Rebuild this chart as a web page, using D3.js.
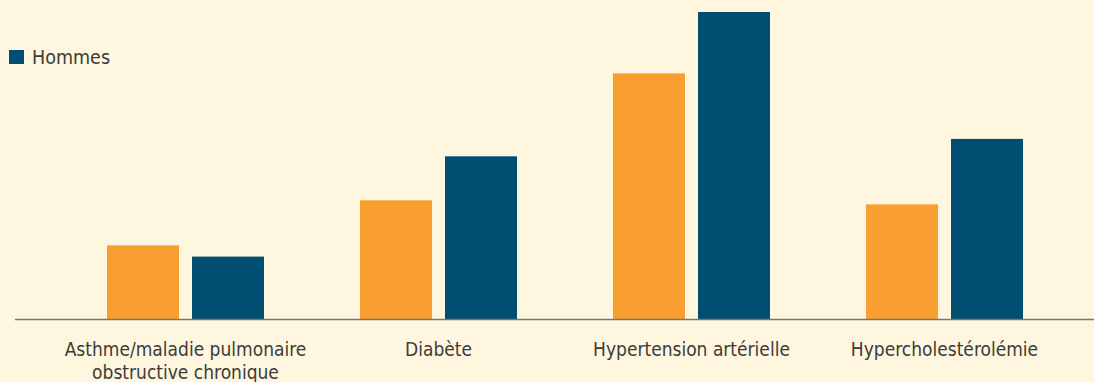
<!DOCTYPE html>
<html><head><meta charset="utf-8">
<script src="https://cdn.jsdelivr.net/npm/d3@7"></script>
<style>
  html, body { margin: 0; padding: 0; background: #fef6df; }
  svg { display: block; }
  text { font-family: "DejaVu Sans Condensed", "DejaVu Sans", sans-serif; fill: #3d3b38; }
</style>
</head>
<body>
<svg id="chart" width="1094" height="382"></svg>
<script>
// Prevalence by condition (%), women (orange) and men (blue)
const categories = [
  ["Asthme/maladie pulmonaire", "obstructive chronique"],
  ["Diabète"],
  ["Hypertension artérielle"],
  ["Hypercholestérolémie"]
];
const seriesNames = ["Femmes", "Hommes"];
const femmes = [7.2, 11.6, 24.0, 11.2];
const hommes = [6.1, 15.9, 30.0, 17.6];
const seriesColors = ["#f99e31", "#004f73"];

const W = 1094, H = 382;
const svg = d3.select("#chart");

svg.append("rect").attr("width", W).attr("height", H).attr("fill", "#fef6df");

const keys = categories.map(c => c.join(" "));
const rows = keys.map((k, i) => ({ key: k, lines: categories[i], values: [femmes[i], hommes[i]] }));

const x0 = d3.scaleBand()
  .domain(keys)
  .range([59, 1071])
  .paddingInner(0.3794)
  .paddingOuter(0.1897);

const x1 = d3.scaleBand()
  .domain(seriesNames)
  .range([0, x0.bandwidth()])
  .paddingInner(0.153);

const y = d3.scaleLinear().domain([0, 30]).range([319, 12]);

const color = d3.scaleOrdinal().domain(seriesNames).range(seriesColors);

// bars
const groups = svg.append("g").selectAll("g")
  .data(rows).join("g")
  .attr("transform", d => `translate(${x0(d.key)},0)`);

groups.selectAll("rect")
  .data(d => seriesNames.map((s, j) => ({ s, v: d.values[j] })))
  .join("rect")
  .attr("x", d => x1(d.s))
  .attr("y", d => y(d.v))
  .attr("width", x1.bandwidth())
  .attr("height", d => y(0) - y(d.v))
  .attr("fill", d => color(d.s));

// baseline
svg.append("line")
  .attr("x1", 15).attr("x2", W)
  .attr("y1", y(0) + 0.5).attr("y2", y(0) + 0.5)
  .attr("stroke", "#7d776b").attr("stroke-width", 1.6);

// category labels
const labels = svg.append("g").selectAll("text")
  .data(rows).join("text")
  .attr("text-anchor", "middle")
  .attr("x", d => x0(d.key) + x0.bandwidth() / 2)
  .attr("y", 356)
  .style("font-size", "19px");

labels.selectAll("tspan")
  .data(d => d.lines)
  .join("tspan")
  .attr("x", function () { return d3.select(this.parentNode).attr("x"); })
  .attr("dy", (d, i) => i === 0 ? 0 : 23)
  .text(d => d);

// legend
const legend = svg.append("g").attr("transform", "translate(9,50)");
legend.append("rect").attr("width", 15).attr("height", 14).attr("fill", color("Hommes"));
legend.append("text").attr("x", 23).attr("y", 13.5).style("font-size", "19.5px").text("Hommes");
</script>
</body></html>
